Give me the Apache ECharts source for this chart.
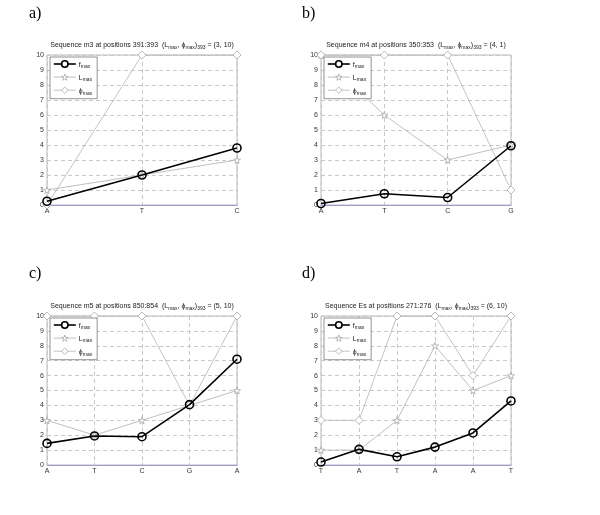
<!DOCTYPE html>
<html><head><meta charset="utf-8">
<script src="https://cdn.jsdelivr.net/npm/echarts@6/dist/echarts.min.js"></script>
<style>html,body{margin:0;padding:0;background:#fff}#c{width:600px;height:515px}</style>
</head><body><div id="c"></div>
<script>
// Panel a
const catsA = ['A','T','C'];
const fA = [0.25, 2.0, 3.8];
const lA = [1, 2, 3];
const pA = [0, 10, 10];
// Panel b
const catsB = ['A','T','C','G'];
const fB = [0.1, 0.75, 0.5, 3.95];
const lB = [10, 6, 3, 4];
const pB = [10, 10, 10, 1];
// Panel c
const catsC = ['A','T','C','G','A'];
const fC = [1.45, 1.95, 1.9, 4.05, 7.1];
const lC = [3, 2, 3, 4, 5];
const pC = [10, 10, 10, 4, 10];
// Panel d
const catsD = ['T','A','T','A','A','T'];
const fD = [0.2, 1.05, 0.55, 1.2, 2.15, 4.3];
const lD = [1, 1, 3, 8, 5, 6];
const pD = [3, 3, 10, 10, 6, 10];

const titles = [
  ['m3', '391:393', '(3, 10)'],
  ['m4', '350:353', '(4, 1)'],
  ['m5', '850:854', '(5, 10)'],
  ['Es', '271:276', '(6, 10)']
];
const panelLabels = ['a)', 'b)', 'c)', 'd)'];
const yTicks = [0,1,2,3,4,5,6,7,8,9,10];

const panels = [
  {cats: catsA, f: fA, l: lA, p: pA},
  {cats: catsB, f: fB, l: lB, p: pB},
  {cats: catsC, f: fC, l: lC, p: pC},
  {cats: catsD, f: fD, l: lD, p: pD}
];
const boxes = [
  {left: 47, top: 55, width: 190, height: 150},
  {left: 321, top: 55, width: 190, height: 150},
  {left: 47, top: 316, width: 190, height: 149},
  {left: 321, top: 316, width: 190, height: 149}
];
const labelPos = [[29, 6], [302, 6], [29, 266], [302, 266]];

const STAR = 'path://M50,0 L61,35 L98,35 L68,57 L79,91 L50,70 L21,91 L32,57 L2,35 L39,35 Z';
const FONT = 'Liberation Sans';
const subRich = {
  n: {fontSize: 7, fontFamily: FONT, fontWeight: 'normal', color: '#222', verticalAlign: 'bottom', lineHeight: 9},
  s: {fontSize: 5, fontFamily: FONT, fontWeight: 'normal', color: '#222', verticalAlign: 'bottom', lineHeight: 6, padding: [0,0,-1,0]}
};
const legendNames = {f: '{n|f}{s|max}', L: '{n|L}{s|max}', p: '{n|ϕ}{s|max}'};
const legendData = [
  {name: 'f', itemStyle: {color: '#fff', borderColor: '#000', borderWidth: 1.6}, lineStyle: {color: '#000', width: 1.6}},
  {name: 'L', itemStyle: {color: '#fff', borderColor: '#a8a8a8', borderWidth: 0.8}, lineStyle: {color: '#b0b0b0', width: 0.8}},
  {name: 'p', itemStyle: {color: '#fff', borderColor: '#aaaaaa', borderWidth: 0.8}, lineStyle: {color: '#b4b4b4', width: 0.8}}
];

const grid = [], xAxis = [], yAxis = [], series = [], title = [], legend = [], graphic = [];
panels.forEach((pn, i) => {
  const b = boxes[i];
  grid.push({left: b.left, top: b.top, width: b.width, height: b.height, show: true,
    borderColor: '#b8b8b8', borderWidth: 1, backgroundColor: '#fff'});
  xAxis.push({type: 'category', gridIndex: i, data: pn.cats, boundaryGap: false,
    axisLine: {show: true, lineStyle: {color: '#9c9cd0', width: 1}},
    axisTick: {show: false},
    axisLabel: {fontSize: 7, fontFamily: FONT, color: '#333', margin: 3},
    splitLine: {show: true, lineStyle: {color: '#c8c8c8', type: [4, 3], width: 1}}
  });
  yAxis.push({type: 'value', gridIndex: i, min: 0, max: 10, interval: 1,
    axisLine: {show: false}, axisTick: {show: false},
    axisLabel: {fontSize: 7, fontFamily: FONT, color: '#333', margin: 3,
      formatter: v => yTicks.includes(v) ? String(v) : ''},
    splitLine: {show: true, lineStyle: {color: '#c8c8c8', type: [4, 3], width: 1}}
  });
  series.push({name: 'L', type: 'line', xAxisIndex: i, yAxisIndex: i, data: pn.l,
    symbol: STAR, symbolSize: 7, z: 2,
    lineStyle: {color: '#b0b0b0', width: 0.8},
    itemStyle: {color: '#fff', borderColor: '#a8a8a8', borderWidth: 0.8}});
  series.push({name: 'p', type: 'line', xAxisIndex: i, yAxisIndex: i, data: pn.p,
    symbol: 'diamond', symbolSize: 8, z: 2,
    lineStyle: {color: '#b4b4b4', width: 0.8},
    itemStyle: {color: '#fff', borderColor: '#aaaaaa', borderWidth: 0.8}});
  series.push({name: 'f', type: 'line', xAxisIndex: i, yAxisIndex: i, data: pn.f,
    symbol: 'circle', symbolSize: 8, z: 3,
    lineStyle: {color: '#000', width: 1.6},
    itemStyle: {color: 'rgba(255,255,255,0)', borderColor: '#000', borderWidth: 1.6}});
  const t = titles[i];
  title.push({
    text: '{n|Sequence ' + t[0] + ' at positions ' + t[1] + '  (L}{s|max}{n|, ϕ}{s|max}{n|)}{s|393}{n| = ' + t[2] + '}',
    left: b.left + b.width / 2, top: b.top - 15, textAlign: 'center', padding: 0,
    textStyle: {fontWeight: 'normal', rich: subRich}
  });
  legend.push({
    data: legendData, orient: 'vertical', left: b.left + 3, top: b.top + 2,
    itemWidth: 22, itemHeight: 8, itemGap: 4, padding: [3, 5, 3, 3],
    borderColor: '#777', borderWidth: 0.8, backgroundColor: '#fff',
    selectedMode: false,
    formatter: name => legendNames[name],
    textStyle: {rich: subRich, padding: [0, 0, 0, -2]}
  });
  graphic.push({type: 'text', left: labelPos[i][0], top: labelPos[i][1],
    style: {text: panelLabels[i], font: '16px "Liberation Serif"', fill: '#000'}});
});

const chart = echarts.init(document.getElementById('c'), null, {renderer: 'canvas'});
chart.setOption({animation: false, backgroundColor: '#fff', grid, xAxis, yAxis, series, title, legend, graphic});
</script></body></html>
